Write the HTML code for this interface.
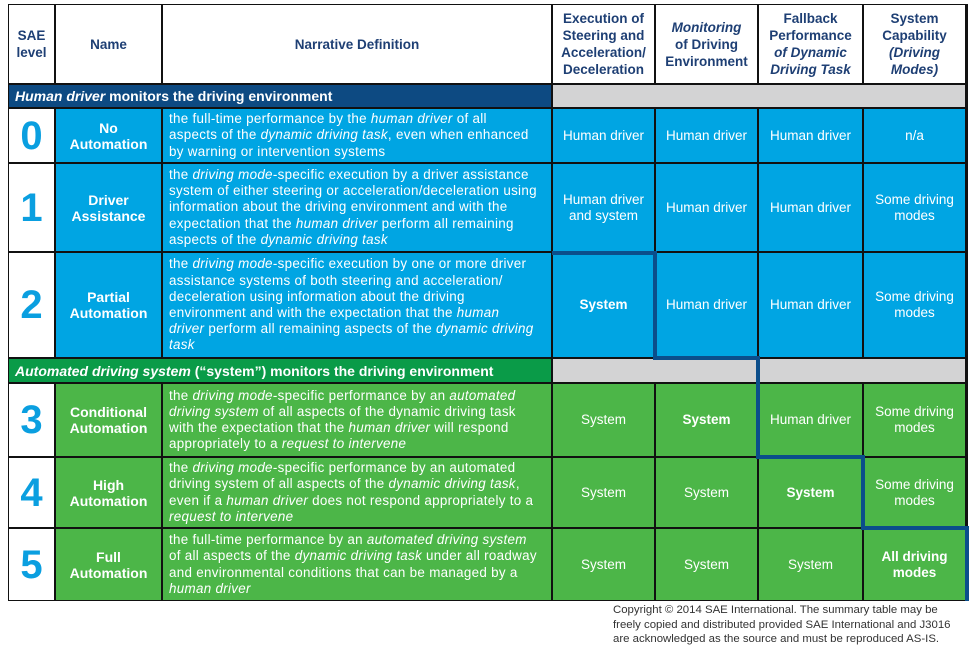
<!DOCTYPE html>
<html><head><meta charset="utf-8"><style>
body{margin:0;width:977px;height:650px;background:#fff;position:relative;overflow:hidden;font-family:"Liberation Sans",sans-serif;}
.c{position:absolute;box-sizing:border-box;display:flex;align-items:center;justify-content:center;text-align:center;color:#fff;font-size:13.5px;line-height:16px;}
.h{background:#fff;color:#1e3f74;font-weight:bold;font-size:13.5px;line-height:17px;}
.b{background:#00a5e3;}
.g{background:#4cb648;}
.n{font-weight:bold;font-size:14px;line-height:16px;}
.d{justify-content:flex-start;text-align:left;padding:0 6px;font-size:13.4px;letter-spacing:0.3px;line-height:16.2px;white-space:nowrap;}
.lv{background:#fff;color:#0a9fe0;font-weight:bold;font-size:40px;}
.bd{font-weight:bold;}
.ln{position:absolute;background:#0b4e8b;}
</style></head><body>
<div style="position:absolute;left:8px;top:4px;width:960px;height:597px;background:#111;"></div>
<div class="c h" style="left:9px;top:5px;width:45px;height:78px;">SAE<br>level</div>
<div class="c h" style="left:56px;top:5px;width:105px;height:78px;">Name</div>
<div class="c h" style="left:163px;top:5px;width:388px;height:78px;">Narrative Definition</div>
<div class="c h" style="left:553px;top:5px;width:101px;height:78px;">Execution of<br>Steering and<br>Acceleration/<br>Deceleration</div>
<div class="c h" style="left:656px;top:5px;width:101px;height:78px;"><span><i>Monitoring</i><br>of Driving<br>Environment</span></div>
<div class="c h" style="left:759px;top:5px;width:103px;height:78px;"><span>Fallback<br>Performance<br><i>of Dynamic<br>Driving Task</i></span></div>
<div class="c h" style="left:864px;top:5px;width:101px;height:78px;"><span>System<br>Capability<br><i>(Driving<br>Modes)</i></span></div>
<div class="c" style="left:9px;top:85px;width:542px;height:22px;background:#0d4a82;justify-content:flex-start;padding-left:6px;font-weight:bold;font-size:14px;"><span><i>Human driver</i> monitors the driving environment</span></div>
<div class="c" style="left:553px;top:85px;width:412px;height:22px;background:#d3d3d4;"></div>
<div class="c lv" style="left:9px;top:109px;width:45px;height:53px;">0</div>
<div class="c b n" style="left:56px;top:109px;width:105px;height:53px;">No<br>Automation</div>
<div class="c b d" style="left:163px;top:109px;width:388px;height:53px;"><span>the full-time performance by the <i>human driver</i> of all<br>aspects of the <i>dynamic driving task</i>, even when enhanced<br>by warning or intervention systems</span></div>
<div class="c b" style="left:553px;top:109px;width:101px;height:53px;">Human driver</div>
<div class="c b" style="left:656px;top:109px;width:101px;height:53px;">Human driver</div>
<div class="c b" style="left:759px;top:109px;width:103px;height:53px;">Human driver</div>
<div class="c b" style="left:864px;top:109px;width:101px;height:53px;">n/a</div>
<div class="c lv" style="left:9px;top:164px;width:45px;height:87px;">1</div>
<div class="c b n" style="left:56px;top:164px;width:105px;height:87px;">Driver<br>Assistance</div>
<div class="c b d" style="left:163px;top:164px;width:388px;height:87px;"><span>the <i>driving mode</i>-specific execution by a driver assistance<br>system of either steering or acceleration/deceleration using<br>information about the driving environment and with the<br>expectation that the <i>human driver</i> perform all remaining<br>aspects of the <i>dynamic driving task</i></span></div>
<div class="c b" style="left:553px;top:164px;width:101px;height:87px;">Human driver<br>and system</div>
<div class="c b" style="left:656px;top:164px;width:101px;height:87px;">Human driver</div>
<div class="c b" style="left:759px;top:164px;width:103px;height:87px;">Human driver</div>
<div class="c b" style="left:864px;top:164px;width:101px;height:87px;">Some driving<br>modes</div>
<div class="c lv" style="left:9px;top:253px;width:45px;height:104px;">2</div>
<div class="c b n" style="left:56px;top:253px;width:105px;height:104px;">Partial<br>Automation</div>
<div class="c b d" style="left:163px;top:253px;width:388px;height:104px;"><span>the <i>driving mode</i>-specific execution by one or more driver<br>assistance systems of both steering and acceleration/<br>deceleration using information about the driving<br>environment and with the expectation that the <i>human</i><br><i>driver</i> perform all remaining aspects of the <i>dynamic driving</i><br><i>task</i></span></div>
<div class="c b bd" style="left:553px;top:253px;width:101px;height:104px;">System</div>
<div class="c b" style="left:656px;top:253px;width:101px;height:104px;">Human driver</div>
<div class="c b" style="left:759px;top:253px;width:103px;height:104px;">Human driver</div>
<div class="c b" style="left:864px;top:253px;width:101px;height:104px;">Some driving<br>modes</div>
<div class="c" style="left:9px;top:359px;width:542px;height:23px;background:#0a9b48;justify-content:flex-start;padding-left:6px;font-weight:bold;font-size:14px;"><span><i>Automated driving system</i> (“system”) monitors the driving environment</span></div>
<div class="c" style="left:553px;top:359px;width:412px;height:23px;background:#d3d3d4;"></div>
<div class="c lv" style="left:9px;top:384px;width:45px;height:72px;">3</div>
<div class="c g n" style="left:56px;top:384px;width:105px;height:72px;">Conditional<br>Automation</div>
<div class="c g d" style="left:163px;top:384px;width:388px;height:72px;"><span>the <i>driving mode</i>-specific performance by an <i>automated</i><br><i>driving system</i> of all aspects of the dynamic driving task<br>with the expectation that the <i>human driver</i> will respond<br>appropriately to a <i>request to intervene</i></span></div>
<div class="c g" style="left:553px;top:384px;width:101px;height:72px;">System</div>
<div class="c g bd" style="left:656px;top:384px;width:101px;height:72px;">System</div>
<div class="c g" style="left:759px;top:384px;width:103px;height:72px;">Human driver</div>
<div class="c g" style="left:864px;top:384px;width:101px;height:72px;">Some driving<br>modes</div>
<div class="c lv" style="left:9px;top:458px;width:45px;height:69px;">4</div>
<div class="c g n" style="left:56px;top:458px;width:105px;height:69px;">High<br>Automation</div>
<div class="c g d" style="left:163px;top:458px;width:388px;height:69px;"><span>the <i>driving mode</i>-specific performance by an automated<br>driving system of all aspects of the <i>dynamic driving task</i>,<br>even if a <i>human driver</i> does not respond appropriately to a<br><i>request to intervene</i></span></div>
<div class="c g" style="left:553px;top:458px;width:101px;height:69px;">System</div>
<div class="c g" style="left:656px;top:458px;width:101px;height:69px;">System</div>
<div class="c g bd" style="left:759px;top:458px;width:103px;height:69px;">System</div>
<div class="c g" style="left:864px;top:458px;width:101px;height:69px;">Some driving<br>modes</div>
<div class="c lv" style="left:9px;top:529px;width:45px;height:71px;">5</div>
<div class="c g n" style="left:56px;top:529px;width:105px;height:71px;">Full<br>Automation</div>
<div class="c g d" style="left:163px;top:529px;width:388px;height:71px;"><span>the full-time performance by an <i>automated driving system</i><br>of all aspects of the <i>dynamic driving task</i> under all roadway<br>and environmental conditions that can be managed by a<br><i>human driver</i></span></div>
<div class="c g" style="left:553px;top:529px;width:101px;height:71px;">System</div>
<div class="c g" style="left:656px;top:529px;width:101px;height:71px;">System</div>
<div class="c g" style="left:759px;top:529px;width:103px;height:71px;">System</div>
<div class="c g bd" style="left:864px;top:529px;width:101px;height:71px;">All driving<br>modes</div>
<div class="ln" style="left:552px;top:251px;width:105px;height:4px;"></div>
<div class="ln" style="left:653px;top:251px;width:4px;height:109px;"></div>
<div class="ln" style="left:653px;top:356px;width:107px;height:4px;"></div>
<div class="ln" style="left:756px;top:356px;width:4px;height:103px;"></div>
<div class="ln" style="left:756px;top:455px;width:109px;height:4px;"></div>
<div class="ln" style="left:861px;top:455px;width:4px;height:75px;"></div>
<div class="ln" style="left:861px;top:526px;width:108px;height:4px;"></div>
<div class="ln" style="left:965px;top:526px;width:4px;height:75px;"></div>
<div style="position:absolute;left:613px;top:603px;width:362px;font-size:11.4px;line-height:14.5px;color:#333;white-space:nowrap;">Copyright © 2014 SAE International. The summary table may be<br>freely copied and distributed provided SAE International and J3016<br>are acknowledged as the source and must be reproduced AS-IS.</div>
</body></html>
